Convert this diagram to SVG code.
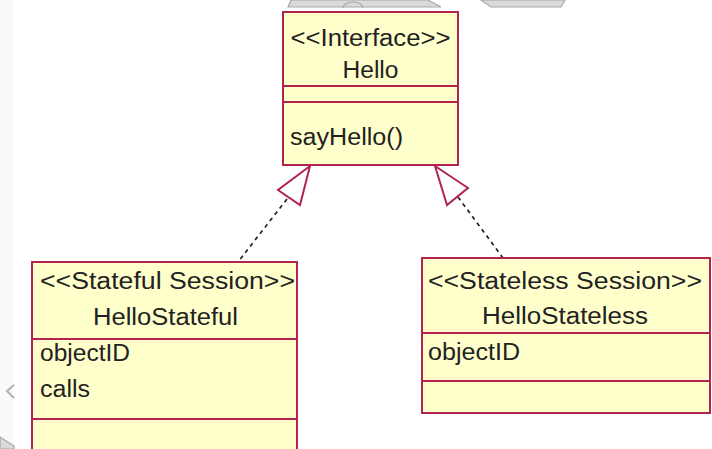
<svg xmlns="http://www.w3.org/2000/svg" width="712" height="449" viewBox="0 0 712 449">
<style>
.box{fill:#ffffcc;stroke:#b0244f;stroke-width:2}
.div{stroke:#b0244f;stroke-width:2}
.t{font-family:"Liberation Sans",Arial,sans-serif;font-size:23px;fill:#222222}
.c{text-anchor:middle}
.dash{fill:none;stroke:#222;stroke-width:1.7;stroke-dasharray:4 4}
.tri{fill:#ffffff;stroke:#b0244f;stroke-width:2}
.bg{fill:#dadada;stroke:#a8a8a8;stroke-width:1.2}
</style>
<rect width="712" height="449" fill="#ffffff"/>
<g id="background">
<rect x="0" y="0" width="13" height="449" fill="#fafafa"/>
<polygon class="bg" points="288,7 291,0 428,0 441,7"/>
<polygon class="bg" points="481,0 565,0 561,7 491,7"/>
<path d="M343,8 A10,6 0 0 1 363,8" fill="none" stroke="#a8a8a8" stroke-width="1.2"/>
<polyline points="14,385 7,391 14,398" fill="none" stroke="#b0b0b0" stroke-width="2"/>
<polygon points="0,437 14,446 14,449 0,449" fill="#dadada" stroke="#a8a8a8" stroke-width="1.2"/>
</g>
<g id="connectors">
<line class="dash" x1="287" y1="199" x2="238" y2="262"/>
<polygon class="tri" points="310,166 278,190 300,205"/>
<line class="dash" x1="458" y1="197" x2="503" y2="258"/>
<polygon class="tri" points="435,166 468,188 447,205"/>
</g>
<g id="hello">
<rect class="box" x="283" y="12" width="175" height="153"/>
<line class="div" x1="283" y1="86" x2="458" y2="86"/>
<line class="div" x1="283" y1="102" x2="458" y2="102"/>
<text class="t c" x="370.5" y="46" textLength="160" lengthAdjust="spacingAndGlyphs">&lt;&lt;Interface&gt;&gt;</text>
<text class="t c" x="370.5" y="78" textLength="56" lengthAdjust="spacingAndGlyphs">Hello</text>
<text class="t" x="290" y="145" textLength="113" lengthAdjust="spacingAndGlyphs">sayHello()</text>
</g>
<g id="helloStateful">
<rect class="box" x="32" y="262" width="265" height="195"/>
<line class="div" x1="32" y1="339" x2="297" y2="339"/>
<line class="div" x1="32" y1="419" x2="297" y2="419"/>
<text class="t c" x="167.5" y="289" textLength="255" lengthAdjust="spacingAndGlyphs">&lt;&lt;Stateful Session&gt;&gt;</text>
<text class="t c" x="165.5" y="325" textLength="145" lengthAdjust="spacingAndGlyphs">HelloStateful</text>
<text class="t" x="40" y="361" textLength="90" lengthAdjust="spacingAndGlyphs">objectID</text>
<text class="t" x="40" y="397" textLength="50" lengthAdjust="spacingAndGlyphs">calls</text>
</g>
<g id="helloStateless">
<rect class="box" x="422" y="258" width="288" height="155"/>
<line class="div" x1="422" y1="333" x2="710" y2="333"/>
<line class="div" x1="422" y1="381" x2="710" y2="381"/>
<text class="t c" x="565" y="289" textLength="274" lengthAdjust="spacingAndGlyphs">&lt;&lt;Stateless Session&gt;&gt;</text>
<text class="t c" x="565" y="324" textLength="166" lengthAdjust="spacingAndGlyphs">HelloStateless</text>
<text class="t" x="428" y="360" textLength="92" lengthAdjust="spacingAndGlyphs">objectID</text>
</g>
</svg>
